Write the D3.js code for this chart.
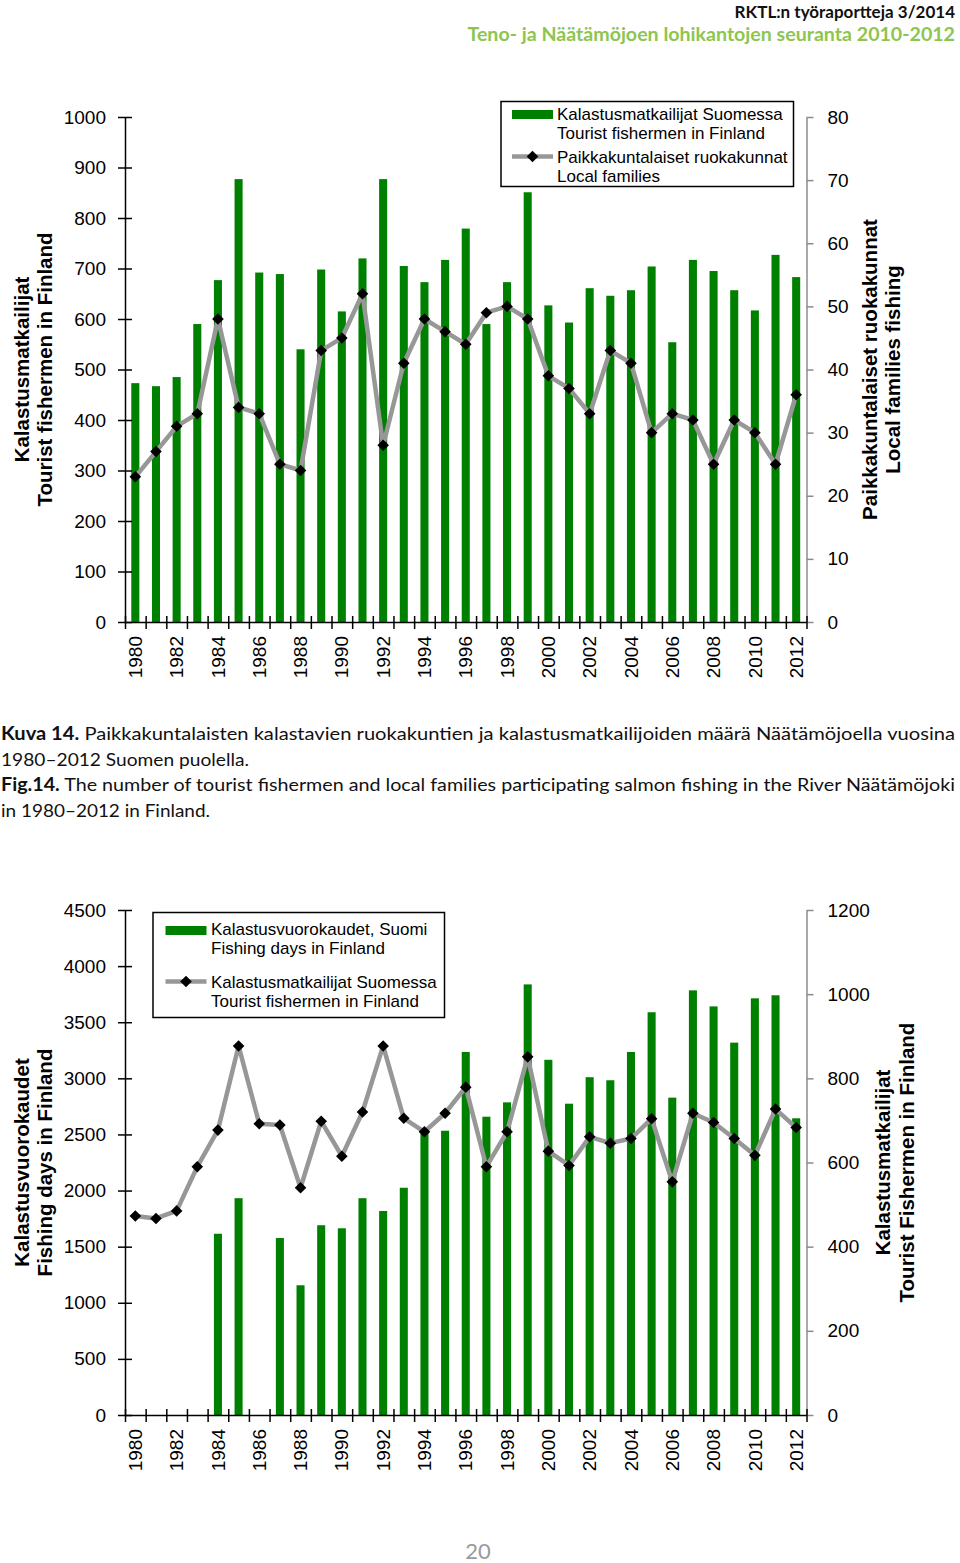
<!DOCTYPE html>
<html><head><meta charset="utf-8">
<script src="https://cdn.jsdelivr.net/npm/d3@7"></script>
<style>body{margin:0;background:#fff} svg{display:block}</style>
</head><body>
<svg id="c" width="960" height="1563"></svg>
<script>
// ---------- DATA ----------
const years = [1980,1981,1982,1983,1984,1985,1986,1987,1988,1989,1990,1991,1992,1993,1994,1995,1996,1997,1998,1999,2000,2001,2002,2003,2004,2005,2006,2007,2008,2009,2010,2011,2012];
const yearLabels = [1980,1982,1984,1986,1988,1990,1992,1994,1996,1998,2000,2002,2004,2006,2008,2010,2012];
const touristFishermen = [473,467,485,590,677,877,692,689,540,698,615,720,877,705,673,717,779,590,673,851,627,593,661,646,657,704,554,717,695,657,617,727,683];
const localFamilies = [23,27,31,33,48,34,33,25,24,43,45,52,28,41,48,46,44,49,50,48,39,37,33,43,41,30,33,32,25,32,30,25,36];
const fishingDays = [null,null,null,null,1615,1932,null,1577,1156,1691,1664,1932,1818,2025,2520,2533,3235,2658,2786,3837,3165,2774,3010,2983,3235,3589,2828,3784,3641,3318,3713,3740,2644];
const topLeftTicks = [0,100,200,300,400,500,600,700,800,900,1000];
const topRightTicks = [0,10,20,30,40,50,60,70,80];
const botLeftTicks = [0,500,1000,1500,2000,2500,3000,3500,4000,4500];
const botRightTicks = [0,200,400,600,800,1000,1200];

// ---------- DRAW ----------
const svg = d3.select("#c");
const FONT = "'Liberation Sans', Arial, sans-serif";
const CFONT = "Lato, 'Open Sans', sans-serif";
const GREEN = "#008000";
const LINEGRAY = "#979797";
const X0 = 125, X1 = 806.5;

function diamond(sel){ sel.attr("d","M0,-5.8L5.8,0L0,5.8L-5.8,0Z").attr("fill","#000"); }

function drawChart(cfg){
  const g = svg.append("g");
  const x = d3.scaleBand().domain(years).range([X0, X1]).paddingInner(0.61).paddingOuter(0.305);
  const xEdge = d3.scaleLinear().domain([0, years.length]).range([X0, X1]);
  const yL = d3.scaleLinear().domain([0, cfg.leftMax]).range([cfg.bottom, cfg.top]);
  const yR = d3.scaleLinear().domain([0, cfg.rightMax]).range([cfg.bottom, cfg.top]);

  const barData = years.map((yr,i)=>({yr, v: cfg.bars[i]})).filter(d=>d.v!=null);
  g.append("g").selectAll("rect").data(barData).join("rect")
    .attr("x", d=>x(d.yr)).attr("width", x.bandwidth())
    .attr("y", d=>yL(d.v)).attr("height", d=>yL(0)-yL(d.v))
    .attr("fill", GREEN);

  const lineData = years.map((yr,i)=>({yr, v: cfg.line[i]}));
  const cx = d=>x(d.yr)+x.bandwidth()/2;
  g.append("path").datum(lineData)
    .attr("d", d3.line().x(cx).y(d=>yR(d.v)))
    .attr("fill","none").attr("stroke",LINEGRAY).attr("stroke-width",4.5).attr("stroke-linejoin","round");
  g.append("g").selectAll("path").data(lineData).join("path")
    .attr("transform", d=>`translate(${cx(d)},${yR(d.v)})`).call(diamond);

  const la = g.append("g").attr("transform",`translate(${X0},0)`)
    .call(d3.axisLeft(yL).tickValues(cfg.leftTicks).tickSize(7).tickSizeOuter(0).tickPadding(12).tickFormat(d3.format("d")));
  la.selectAll(".tick line").attr("x1",7).attr("stroke","#000").attr("stroke-width",1.5);
  la.select(".domain").attr("stroke","#000").attr("stroke-width",1.5);
  la.selectAll("text").attr("font-family",FONT).attr("font-size",19).attr("fill","#000");

  const ra = g.append("g").attr("transform",`translate(${X1},0)`)
    .call(d3.axisRight(yR).tickValues(cfg.rightTicks).tickSize(7).tickSizeOuter(0).tickPadding(14).tickFormat(d3.format("d")));
  ra.selectAll(".tick line").attr("stroke","#8c8c8c").attr("stroke-width",1.5);
  ra.select(".domain").attr("stroke","#8c8c8c").attr("stroke-width",1.5);
  ra.selectAll("text").attr("font-family",FONT).attr("font-size",19).attr("fill","#000");

  const xa = g.append("g").attr("transform",`translate(0,${cfg.bottom})`)
    .call(d3.axisBottom(xEdge).tickValues(d3.range(years.length+1)).tickSize(7).tickSizeOuter(0).tickFormat(""));
  xa.selectAll(".tick line").attr("y1",-6).attr("stroke","#000").attr("stroke-width",1.5);
  xa.select(".domain").attr("stroke","#000").attr("stroke-width",1.5);

  const xl = g.append("g").attr("transform",`translate(0,${cfg.bottom})`)
    .call(d3.axisBottom(x).tickValues(yearLabels).tickSize(0));
  xl.select(".domain").remove();
  xl.selectAll("text").attr("font-family",FONT).attr("font-size",19).attr("fill","#000")
    .attr("transform","rotate(-90)").attr("x",-14).attr("y",0).attr("dy","0.35em").attr("text-anchor","end");

  const midY = (cfg.top+cfg.bottom)/2;
  cfg.leftTitle.forEach((t,i)=>{
    g.append("text").attr("transform",`translate(${cfg.leftTitleX[i]},${midY})rotate(-90)`)
      .attr("text-anchor","middle").attr("font-family",FONT).attr("font-weight","bold").attr("font-size",20.5).text(t);
  });
  cfg.rightTitle.forEach((t,i)=>{
    g.append("text").attr("transform",`translate(${cfg.rightTitleX[i]},${midY})rotate(-90)`)
      .attr("text-anchor","middle").attr("font-family",FONT).attr("font-weight","bold").attr("font-size",20.5).text(t);
  });

  const L = cfg.legend;
  const lg = g.append("g").attr("transform",`translate(${L.x},${L.y})`);
  lg.append("rect").attr("x",0).attr("y",0).attr("width",L.w).attr("height",L.h)
    .attr("fill","#fff").attr("stroke","#000").attr("stroke-width",1.5);
  lg.append("rect").attr("x",L.sx).attr("y",L.barY-4.5).attr("width",41).attr("height",9).attr("fill",GREEN);
  lg.append("line").attr("x1",L.sx).attr("x2",L.sx+41).attr("y1",L.lineY).attr("y2",L.lineY)
    .attr("stroke",LINEGRAY).attr("stroke-width",4.5);
  lg.append("path").attr("transform",`translate(${L.sx+20.5},${L.lineY})`).call(diamond);
  L.texts.forEach((t,i)=>{
    lg.append("text").attr("x",L.tx).attr("y",L.ty[i]).attr("font-family",FONT).attr("font-size",17).attr("fill","#000").text(t);
  });
}

drawChart({
  top:117, bottom:622, leftMax:1000, rightMax:80,
  leftTicks:topLeftTicks, rightTicks:topRightTicks,
  bars:touristFishermen, line:localFamilies,
  leftTitle:["Kalastusmatkailijat","Tourist fishermen in Finland"], leftTitleX:[29,52],
  rightTitle:["Paikkakuntalaiset ruokakunnat","Local families fishing"], rightTitleX:[877,900],
  legend:{x:501, y:101.5, w:292.5, h:85, sx:11, barY:13, lineY:55, tx:56,
    ty:[18.5,37.5,61.5,80.5],
    texts:["Kalastusmatkailijat Suomessa","Tourist fishermen in Finland","Paikkakuntalaiset ruokakunnat","Local families"]}
});
drawChart({
  top:910, bottom:1415, leftMax:4500, rightMax:1200,
  leftTicks:botLeftTicks, rightTicks:botRightTicks,
  bars:fishingDays, line:touristFishermen,
  leftTitle:["Kalastusvuorokaudet","Fishing days in Finland"], leftTitleX:[29,52],
  rightTitle:["Kalastusmatkailijat","Tourist Fishermen in Finland"], rightTitleX:[890,914],
  legend:{x:153, y:912.5, w:291.5, h:105, sx:12.5, barY:18, lineY:69, tx:58,
    ty:[22.5,41.5,75.5,94.5],
    texts:["Kalastusvuorokaudet, Suomi","Fishing days in Finland","Kalastusmatkailijat Suomessa","Tourist fishermen in Finland"]}
});

// Header
svg.append("text").attr("x",955).attr("y",18).attr("text-anchor","end")
  .attr("font-family",CFONT).attr("font-weight","bold").attr("font-size",17).attr("fill","#111")
  .text("RKTL:n työraportteja 3/2014");
svg.append("text").attr("x",955).attr("y",41).attr("text-anchor","end")
  .attr("font-family",CFONT).attr("font-weight","bold").attr("font-size",19.6).attr("fill","#8dc54f")
  .text("Teno- ja Näätämöjoen lohikantojen seuranta 2010-2012");

// Caption
const capLines = [
  {b:"Kuva 14.", t:" Paikkakuntalaisten kalastavien ruokakuntien ja kalastusmatkailijoiden määrä Näätämöjoella vuosina", y:740, w:954},
  {b:"", t:"1980–2012 Suomen puolella.", y:766, w:248},
  {b:"Fig.14.", t:" The number of tourist fishermen and local families participating salmon fishing in the River Näätämöjoki", y:791, w:954},
  {b:"", t:"in 1980–2012 in Finland.", y:817, w:209}
];
capLines.forEach(l=>{
  const tx = svg.append("text").attr("x",1).attr("y",l.y).attr("font-family",CFONT).attr("font-size",18).attr("fill","#111")
    .attr("textLength",l.w).attr("lengthAdjust","spacingAndGlyphs");
  if(l.b) tx.append("tspan").attr("font-weight","bold").text(l.b);
  tx.append("tspan").text(l.t);
});

// Page number
svg.append("text").attr("x",478).attr("y",1559).attr("text-anchor","middle")
  .attr("font-family",CFONT).attr("font-size",22).attr("fill","#9a9a9a").text("20");
</script>
</body></html>
